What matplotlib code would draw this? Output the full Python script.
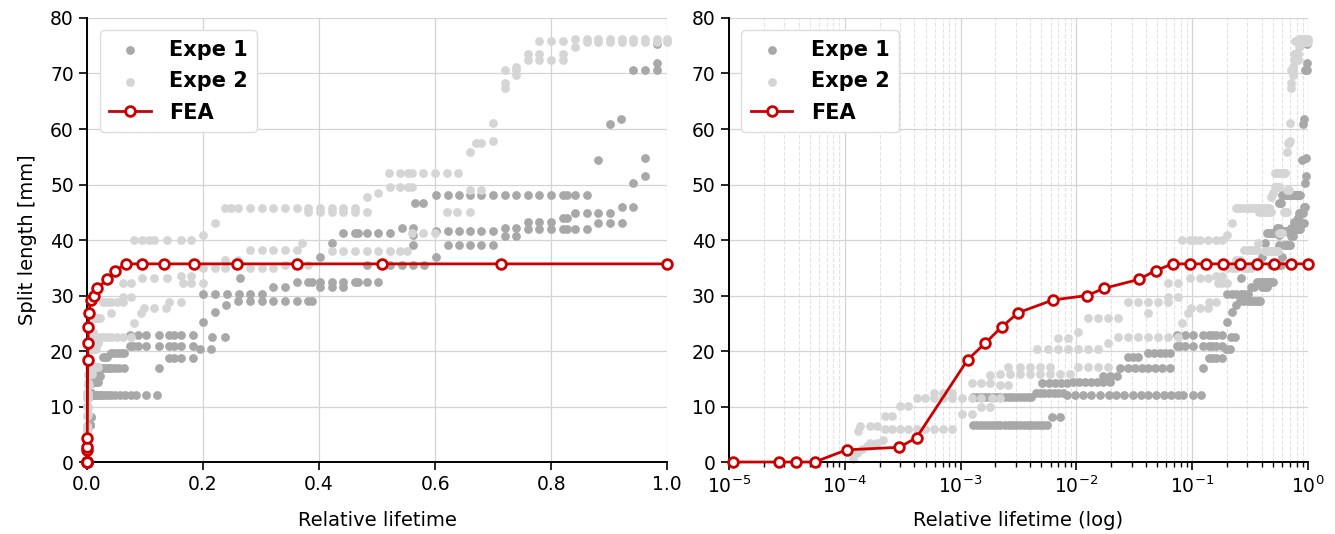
import numpy as np
import matplotlib.pyplot as plt
from matplotlib.ticker import LogLocator, NullFormatter

# ---- data (relative lifetime, split length in mm) ----
# experiments: each run is (split length, [relative lifetimes])
e1_runs = [
    (6.7, [1.28e-3, 1.4e-3, 1.5e-3, 1.62e-3, 1.75e-3, 1.9e-3, 2.05e-3, 2.2e-3, 2.4e-3, 2.6e-3,
           2.8e-3, 3.0e-3, 3.25e-3, 3.5e-3, 3.8e-3, 4.1e-3, 4.4e-3, 4.8e-3, 5.2e-3, 5.6e-3]),
    (8.2, [6.15e-3, 7.2e-3]),
    (11.8, [1.28e-3, 1.4e-3, 1.5e-3, 1.62e-3, 1.75e-3, 1.9e-3, 2.05e-3, 2.2e-3, 2.4e-3, 2.6e-3,
            2.8e-3, 3.0e-3, 3.25e-3, 3.5e-3, 3.8e-3, 4.1e-3]),
    (12.5, [4.5e-3, 4.9e-3, 5.3e-3, 5.8e-3, 6.4e-3, 7.0e-3, 7.6e-3]),
    (12.0, [8.3e-3, 9.7e-3, 0.0115, 0.0135, 0.016, 0.019, 0.022, 0.026, 0.031, 0.036, 0.042,
            0.049, 0.057, 0.066, 0.075, 0.084, 0.101, 0.12]),
    (14.2, [5.1e-3, 5.8e-3, 6.6e-3, 7.4e-3, 8.3e-3]),
    (14.5, [9.3e-3, 0.0105, 0.012, 0.0135, 0.015, 0.017, 0.0195]),
    (15.5, [0.017, 0.0195, 0.0224]),
    (16.9, [0.024, 0.028, 0.032, 0.037, 0.042, 0.048, 0.055, 0.064, 0.124]),
    (18.9, [0.028, 0.031, 0.034]),
    (19.7, [0.042, 0.047, 0.053, 0.058, 0.064]),
    (20.9, [0.074, 0.079, 0.087, 0.101, 0.124, 0.141, 0.15, 0.162, 0.182]),
    (22.9, [0.074, 0.087, 0.101, 0.124, 0.141, 0.15, 0.162, 0.182]),
    (18.7, [0.141, 0.15, 0.162, 0.182]),
    (20.3, [0.195, 0.214]),
    (22.6, [0.216, 0.237]),
    (25.3, [0.2]),
    (27.1, [0.22]),
    (28.3, [0.24]),
    (30.2, [0.2, 0.22, 0.241, 0.262, 0.281, 0.302]),
    (29.1, [0.261, 0.281, 0.302, 0.32, 0.341, 0.362, 0.381, 0.388]),
    (31.5, [0.32, 0.341]),
    (33.2, [0.264]),
    (32.5, [0.362, 0.381, 0.388, 0.402, 0.422, 0.441, 0.462, 0.467, 0.483, 0.502]),
    (31.6, [0.402, 0.422, 0.441]),
    (35.5, [0.483, 0.522, 0.543, 0.562, 0.581]),
    (36.9, [0.402, 0.602]),
    (39.4, [0.422]),
    (41.3, [0.441, 0.462, 0.467, 0.483, 0.502, 0.522]),
    (42.2, [0.543, 0.562]),
    (39.1, [0.562, 0.622, 0.641, 0.66, 0.68, 0.70]),
    (40.9, [0.562]),
    (41.7, [0.602, 0.622, 0.641, 0.66, 0.68, 0.70]),
    (46.7, [0.565, 0.58]),
    (48.1, [0.602, 0.622, 0.641, 0.66, 0.68, 0.70, 0.72, 0.74, 0.76, 0.78, 0.80, 0.82, 0.827,
            0.841, 0.862]),
    (42.1, [0.72, 0.74]),
    (40.7, [0.72, 0.74]),
    (41.9, [0.76, 0.78, 0.80, 0.82, 0.827, 0.841, 0.862]),
    (43.0, [0.881, 0.902, 0.922]),
    (43.2, [0.76, 0.78, 0.80]),
    (44.0, [0.82, 0.827]),
    (44.9, [0.841, 0.862, 0.881, 0.902]),
    (46.0, [0.922, 0.942]),
    (50.2, [0.942]),
    (51.5, [0.962]),
    (54.7, [0.962]),
    (54.4, [0.881]),
    (60.9, [0.902]),
    (61.8, [0.921]),
    (70.6, [0.942, 0.962, 0.982]),
    (71.9, [0.982]),
    (75.4, [0.982]),
]

e2_runs = [
    (0.5, [1.18e-4]),
    (1.6, [1.28e-4]),
    (2.3, [1.41e-4]),
    (2.8, [1.55e-4, 1.65e-4]),
    (3.5, [1.65e-4, 1.9e-4]),
    (4.0, [2.14e-4]),
    (5.5, [1.3e-4]),
    (6.4, [1.35e-4, 1.65e-4, 1.9e-4]),
    (5.9, [2.22e-4, 2.55e-4, 2.98e-4, 3.5e-4, 4.2e-4, 4.9e-4, 5.9e-4, 7.1e-4, 8.4e-4]),
    (8.3, [2.22e-4, 2.55e-4]),
    (10.1, [2.98e-4, 3.5e-4]),
    (11.6, [4.2e-4, 4.9e-4, 5.9e-4, 7.1e-4, 8.4e-4, 1.03e-3, 1.26e-3, 1.5e-3, 1.86e-3, 2.19e-3]),
    (12.5, [5.9e-4, 7.1e-4, 8.4e-4]),
    (8.6, [1.03e-3, 1.26e-3]),
    (10.0, [1.5e-3, 1.79e-3]),
    (14.2, [1.26e-3, 1.5e-3, 1.79e-3]),
    (15.7, [1.79e-3]),
    (13.9, [2.19e-3, 2.56e-3]),
    (15.8, [2.19e-3, 2.67e-3, 3.26e-3, 3.97e-3, 4.85e-3, 5.9e-3, 7.2e-3, 8.8e-3]),
    (17.2, [2.56e-3, 3.26e-3, 3.97e-3, 4.85e-3, 5.9e-3, 0.0103, 0.0126, 0.0153, 0.0187]),
    (20.4, [4.6e-3, 5.7e-3, 6.9e-3, 8.5e-3, 0.0103, 0.0126, 0.0153]),
    (22.4, [6.9e-3, 8.5e-3]),
    (23.4, [0.0103]),
    (25.9, [0.0126, 0.0153, 0.0187, 0.0229]),
    (21.4, [0.0187]),
    (22.5, [0.0229, 0.028, 0.034, 0.042, 0.051, 0.062, 0.075]),
    (28.9, [0.028, 0.034, 0.042, 0.051, 0.062, 0.141, 0.162]),
    (26.8, [0.042, 0.093]),
    (29.7, [0.062, 0.075]),
    (32.2, [0.062, 0.075, 0.166, 0.18, 0.2]),
    (40.0, [0.081, 0.095, 0.106, 0.116, 0.138, 0.162, 0.18]),
    (40.9, [0.2]),
    (43.0, [0.22]),
    (33.1, [0.095, 0.116, 0.138]),
    (33.5, [0.162, 0.18]),
    (27.7, [0.098, 0.116, 0.136]),
    (25.1, [0.081]),
    (34.9, [0.2, 0.22, 0.238, 0.281, 0.301, 0.32]),
    (35.5, [0.341, 0.362, 0.381]),
    (36.4, [0.238, 0.261]),
    (45.8, [0.238, 0.249, 0.261, 0.281, 0.301, 0.32, 0.341, 0.362, 0.381, 0.402, 0.422, 0.442, 0.462]),
    (45.0, [0.381, 0.402, 0.422, 0.442, 0.462, 0.483]),
    (47.8, [0.483]),
    (48.5, [0.502]),
    (49.5, [0.522, 0.54, 0.553, 0.56]),
    (52.0, [0.52, 0.54, 0.554, 0.56, 0.58, 0.60, 0.62, 0.64]),
    (38.2, [0.281, 0.301, 0.32, 0.341, 0.362]),
    (39.4, [0.37]),
    (38.1, [0.422, 0.442, 0.462, 0.483, 0.502, 0.522, 0.54, 0.552]),
    (41.2, [0.56, 0.58, 0.6]),
    (45.1, [0.62, 0.637, 0.66]),
    (49.0, [0.66, 0.68]),
    (55.9, [0.66]),
    (57.4, [0.67, 0.68]),
    (57.9, [0.70]),
    (61.0, [0.70]),
    (67.3, [0.72]),
    (68.2, [0.72]),
    (70.6, [0.72, 0.74]),
    (71.2, [0.74]),
    (69.7, [0.74]),
    (72.4, [0.76, 0.78, 0.80, 0.82]),
    (73.6, [0.76, 0.78, 0.82]),
    (74.7, [0.841]),
    (75.9, [0.78, 0.80, 0.82]),
    (76.3, [0.841, 0.862, 0.881, 0.902, 0.922, 0.942, 0.962, 0.982, 1.0]),
    (75.6, [0.862, 0.881, 0.902, 0.922, 0.942, 0.962, 0.982, 1.0]),
]

# finite element simulation
fea_x = [1.08e-5, 2.7e-5, 3.8e-5, 5.5e-5, 1.04e-4, 2.96e-4, 4.18e-4, 1.15e-3, 1.63e-3, 2.26e-3,
         3.15e-3, 6.3e-3, 1.24e-2, 1.74e-2, 3.47e-2, 4.84e-2, 0.068, 0.095, 0.132, 0.185, 0.258,
         0.362, 0.508, 0.713, 1.0]
fea_y = [0, 0, 0, 0, 2.2, 2.65, 4.4, 18.4, 21.4, 24.3, 26.9, 29.2, 30.0, 31.3, 32.9, 34.5,
         35.7, 35.7, 35.7, 35.7, 35.7, 35.7, 35.7, 35.7, 35.7]


def flatten(runs):
    xs, ys = [], []
    for y, xx in runs:
        xs += xx
        ys += [y] * len(xx)
    return np.array(xs), np.array(ys)


e1_x, e1_y = flatten(e1_runs)
e2_x, e2_y = flatten(e2_runs)

c_e1 = '#a8a8a8'
c_e2 = '#d5d5d5'
c_fea = '#cc0000'

plt.rcParams['font.family'] = 'DejaVu Sans'
fig = plt.figure(figsize=(13.35, 5.34), dpi=100)
ax1 = fig.add_axes([0.0652, 0.1348, 0.4345, 0.8315])
ax2 = fig.add_axes([0.546, 0.1348, 0.4337, 0.8315])

for ax in (ax1, ax2):
    ax.scatter(e1_x, e1_y, s=40, color=c_e1, linewidths=0, zorder=2, label='Expe 1', clip_on=False)
    ax.scatter(e2_x, e2_y, s=40, color=c_e2, linewidths=0, zorder=2, label='Expe 2', clip_on=False)
    ax.plot(fea_x, fea_y, color=c_fea, lw=2.0, marker='o', ms=7, mfc='white', mec=c_fea,
            mew=2.0, zorder=3, label='FEA', clip_on=False)
    ax.set_ylim(0, 80)
    ax.set_yticks(range(0, 81, 10))
    ax.grid(True, which='major', color='#d4d4d4', lw=0.9, zorder=0)
    ax.set_axisbelow(True)
    for s in ('top', 'right'):
        ax.spines[s].set_visible(False)
    for s in ('left', 'bottom'):
        ax.spines[s].set_linewidth(1.4)
    ax.tick_params(which='major', length=6, width=1.2, labelsize=13.5, direction='out')
    leg = ax.legend(loc='upper left', prop={'weight': 'bold', 'size': 15}, handletextpad=0.9,
                    borderpad=0.45, labelspacing=0.55, handlelength=2.0, framealpha=1,
                    edgecolor='#dddddd', borderaxespad=0.6)

ax1.set_xlim(0, 1.0)
ax1.set_xticks([0.0, 0.2, 0.4, 0.6, 0.8, 1.0])
ax1.set_xlabel('Relative lifetime', fontsize=14, labelpad=12)
ax1.set_ylabel('Split length [mm]', fontsize=14, labelpad=9)

ax2.set_xscale('log')
ax2.set_xlim(1e-5, 1)
ax2.xaxis.set_major_locator(LogLocator(base=10, numticks=10))
ax2.xaxis.set_minor_locator(LogLocator(base=10, subs=np.arange(2, 10), numticks=20))
ax2.xaxis.set_minor_formatter(NullFormatter())
ax2.grid(True, which='minor', axis='x', color='#e3e3e3', lw=0.8, ls='--', zorder=0)
ax2.tick_params(which='minor', length=3.5, width=1.0)
ax2.set_xlabel('Relative lifetime (log)', fontsize=14, labelpad=10)

fig.savefig('out.png', dpi=100)
